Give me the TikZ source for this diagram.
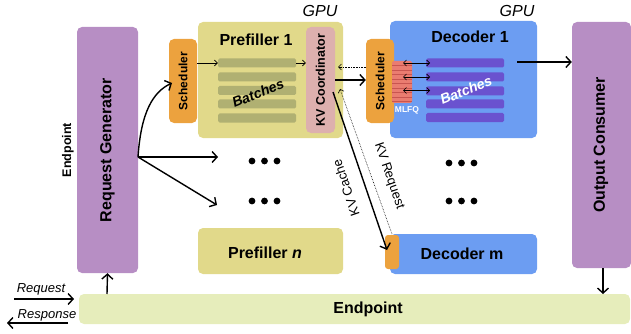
\documentclass[tikz,border=0pt]{standalone}
\usepackage{fontspec}
\setmainfont{Liberation Sans}
\usetikzlibrary{arrows.meta}
\definecolor{cpurple}{HTML}{B78EC4}
\definecolor{cyellow}{HTML}{E1D98A}
\definecolor{colive}{HTML}{B0B072}
\definecolor{cpink}{HTML}{DDB0AE}
\definecolor{corange}{HTML}{ECA23E}
\definecolor{cblue}{HTML}{6C9DF2}
\definecolor{cviolet}{HTML}{6A52CF}
\definecolor{cred}{HTML}{EA7C70}
\definecolor{cstripe}{HTML}{C85550}
\definecolor{cgreen}{HTML}{E6EDBB}
\tikzset{
  box/.style={rounded corners=5pt, inner sep=0pt, draw=none},
  bar/.style={rounded corners=1.5pt, inner sep=0pt, draw=none, minimum width=78pt, minimum height=9pt},
  big/.style={font=\bfseries\fontsize{16}{18}\selectfont},
  mid/.style={font=\bfseries\fontsize{12.5}{14}\selectfont},
  ital/.style={font=\itshape\fontsize{13}{15}\selectfont},
  thickarr/.style={line width=1.4pt, -{Straight Barb[length=5pt,width=11pt]}},
  thinarr/.style={line width=0.7pt, -{Straight Barb[length=3pt,width=6pt]}},
  dotarr/.style={line width=0.6pt, densely dotted, -{Straight Barb[length=3pt,width=6pt]}},
}
\begin{document}
\begin{tikzpicture}[x=1pt,y=-1pt]
\useasboundingbox (0,0) rectangle (631,334);
% main boxes
\node[box, fill=cpurple, minimum width=61pt, minimum height=246pt] (rg) at (107.5,150) {};
\node[box, fill=cpurple, minimum width=59pt, minimum height=246pt] (oc) at (601.5,145) {};
\node[box, fill=cgreen, minimum width=551pt, minimum height=30pt] (ep) at (354.5,309) {};
\node[box, fill=cyellow, minimum width=145pt, minimum height=116pt] (p1) at (270.5,80) {};
\node[box, fill=corange, minimum width=28pt, minimum height=84pt] (s1) at (183,81) {};
\node[box, fill=cpink, minimum width=29pt, minimum height=106pt] (kv) at (320.5,80) {};
\node[box, fill=cblue, minimum width=147pt, minimum height=117pt] (d1) at (463.5,79.5) {};
\node[box, fill=corange, minimum width=28pt, minimum height=84pt] (s2) at (380,81) {};
\node[box, fill=cyellow, minimum width=145pt, minimum height=46pt] (pn) at (270.5,251) {};
\node[box, fill=cblue, minimum width=147pt, minimum height=40pt] (dm) at (463.5,254) {};
\node[box, rounded corners=3pt, fill=corange, minimum width=14pt, minimum height=34pt] (dmo) at (392,252) {};
% MLFQ
\node[inner sep=0pt, fill=cred, minimum width=20pt, minimum height=42pt, rounded corners=1.5pt] (mlfq) at (402,82) {};
\foreach \yy in {65.5,70,74.5,79,83.5,88,92.5,97,101.5}
  \draw[cstripe, line width=0.5pt] (392,\yy) -- (412,\yy);
\node[font=\bfseries\fontsize{8.5}{10}\selectfont, text=white] (mlfqt) at (407,110) {MLFQ};
% labels
\node[big, rotate=90] (rgt) at (rg) {Request Generator};
\node[big, rotate=90] (oct) at (601,145) {Output Consumer};
\node[big] (ept) at (368,309) {Endpoint};
\node[mid, rotate=90] (ep2) at (68,150) {Endpoint};
\node[big] (p1t) at (256,40) {Prefiller 1};
\node[big] (d1t) at (470,37) {Decoder 1};
\node[big] (pnt) at (265,253) {Prefiller \textit{n}};
\node[big] (dmt) at (462,254) {Decoder m};
\node[font=\bfseries\fontsize{12}{14}\selectfont, rotate=90] (s1t) at (s1) {Scheduler};
\node[font=\bfseries\fontsize{12}{14}\selectfont, rotate=90] (s2t) at (s2) {Scheduler};
\node[font=\bfseries\fontsize{12.5}{14}\selectfont, rotate=90] (kvt) at (kv) {KV Coordinator};
\node[font=\itshape\fontsize{16}{18}\selectfont] (g1) at (320,11) {GPU};
\node[font=\itshape\fontsize{16}{18}\selectfont] (g2) at (517,11) {GPU};
% prefill batches
\foreach \yy/\nm in {63/pa,77/pb,90.5/pc,104/pd,118/pe}
  \node[bar, fill=colive] (\nm) at (257,\yy) {};
\node[font=\bfseries\itshape\fontsize{14}{16}\selectfont, rotate=22] (pbt) at (258,93) {Batches};
% decoder batches
\foreach \yy/\nm in {63/da,77/db,91/dc,104/dd,117.5/de}
  \node[bar, fill=cviolet] (\nm) at (465,\yy) {};
\node[font=\bfseries\itshape\fontsize{14}{16}\selectfont, rotate=22, text=white] (dbt) at (466,90) {Batches};
% small arrows
\draw[thinarr] (s1.east |- pa) -- (pa.west);
\draw[thinarr] (pa.east) -- (kv.west |- pa);
\foreach \yy in {63,77,90.5}
  \draw[line width=0.7pt, {Straight Barb[length=3pt,width=6pt]}-{Straight Barb[length=3pt,width=6pt]}] (403,\yy) -- (430,\yy);
% dots
\foreach \xx in {252,264.5,277} {\fill (\xx,161) circle (3.4); \fill (\xx,201) circle (3.4);}
\foreach \xx in {449,461.5,474} {\fill (\xx,163) circle (3.4); \fill (\xx,201) circle (3.4);}
% request generator fan-out
\coordinate (src) at (138,157);
\coordinate (dot1) at (218,157);
\coordinate (dot2) at (217,205);
\coordinate (s1in) at (172,83);
\draw[thickarr] (src) .. controls (141,112) and (153,92) .. (s1in);
\draw[thickarr] (src) -- (dot1);
\draw[thickarr] (src) -- (dot2);
% kv to scheduler
\draw[thickarr] (kv.east) -- (kv.east -| s2.west);
\coordinate (s2d) at (366,67);
\coordinate (kvd) at (338,67);
\draw[dotarr] (s2d) -- (kvd);
% KV cache & request
\coordinate (kvc) at (333,92);
\coordinate (dmin) at (387,250);
\draw[thickarr] (kvc) -- (dmin);
\coordinate (kvr) at (340,89);
\coordinate (dmtop) at (392,234);
\draw[dotarr] (dmtop) -- (kvr);
\node[font=\fontsize{13}{15}\selectfont, rotate=109] (kvct) at (346,188) {KV Cache};
\node[font=\fontsize{13}{15}\selectfont, rotate=-71] (kvrt) at (389,176) {KV Request};
% decoder to output
\coordinate (d1o) at (517,62);
\draw[thickarr] (d1o) -- (d1o -| oc.west);
% endpoint links
\coordinate (epl) at (107,294);
\coordinate (ocb) at (603,268);
\coordinate (epr) at (603,294);
\draw[thickarr] (epl) -- (rg.south);
\draw[thickarr] (ocb) -- (epr);
\coordinate (rq) at (14,299);
\coordinate (rqe) at (74,299);
\coordinate (rs) at (68,323);
\coordinate (rse) at (7,323);
\draw[thickarr] (rq) -- (rqe);
\draw[thickarr] (rs) -- (rse);
\node[ital] (rqt) at (41,289) {Request};
\node[ital] (rst) at (47,315) {Response};
\end{tikzpicture}
\end{document}
